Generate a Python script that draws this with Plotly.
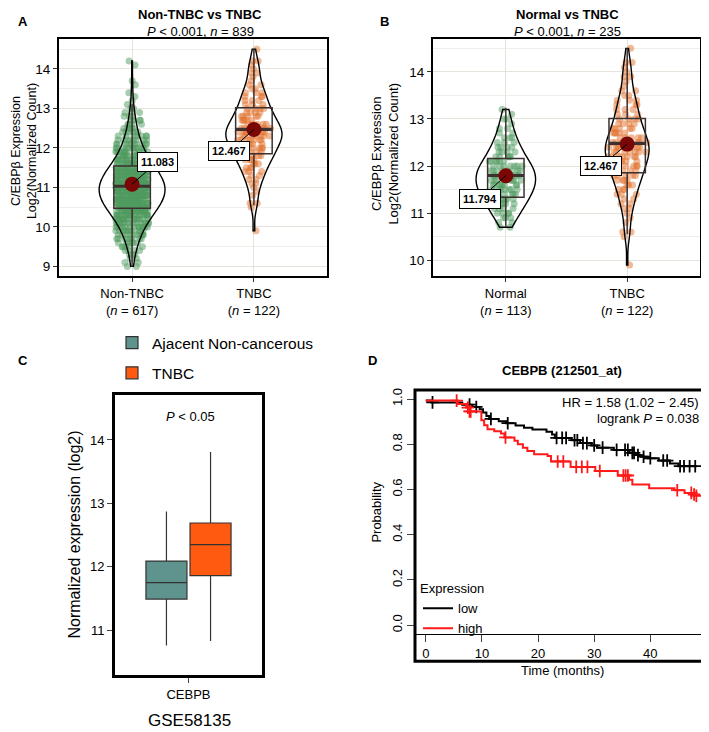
import numpy as np
import plotly.graph_objects as go

W, H = 709, 732
OFF = 8  # page body margin that shifts the figure on screen
FONT = "Liberation Sans"

# ---- panel A / B : C/EBPb expression (binned values read from the jitter/violins) ----
nontnbc_vals = [9.0, 9.1, 9.2, 9.3, 9.4, 9.5, 9.6, 9.7, 9.8, 9.9,
                10.0, 10.1, 10.2, 10.3, 10.4, 10.5, 10.6, 10.7, 10.8, 10.9,
                11.0, 11.1, 11.2, 11.3, 11.4, 11.5, 11.6, 11.7, 11.8, 11.9,
                12.0, 12.1, 12.2, 12.3, 12.4, 12.5, 12.6, 12.7, 12.8, 12.9,
                13.0, 13.1, 13.2, 13.3, 13.4, 13.6, 13.7, 14.1, 14.2]
nontnbc_counts = [2, 2, 2, 3, 4, 5, 6, 8, 9, 11,
                  13, 15, 17, 21, 25, 27, 30, 32, 34, 35,
                  35, 34, 32, 29, 27, 24, 21, 17, 15, 13,
                  11, 10, 8, 7, 6, 5, 4, 4, 3, 3,
                  2, 1, 1, 1, 1, 1, 1, 1, 1]

tnbc_vals = [9.9, 10.5, 10.6, 10.8, 10.9, 11.0, 11.1, 11.2, 11.3, 11.4,
             11.5, 11.6, 11.7, 11.8, 11.9, 12.0, 12.1, 12.2, 12.3, 12.4,
             12.5, 12.6, 12.7, 12.8, 12.9, 13.0, 13.1, 13.2, 13.3, 13.4,
             13.5, 13.6, 13.7, 13.8, 13.9, 14.0, 14.1, 14.2, 14.5]
tnbc_counts = [1, 1, 2, 1, 1, 1, 2, 2, 2, 3,
               3, 3, 4, 5, 5, 5, 5, 7, 7, 7,
               7, 5, 5, 5, 4, 4, 3, 3, 3, 3,
               2, 2, 1, 1, 2, 1, 1, 2, 1]

normal_vals = [10.7, 10.8, 10.9, 11.0, 11.1, 11.2, 11.3, 11.4, 11.5, 11.6,
               11.7, 11.8, 11.9, 12.0, 12.1, 12.2, 12.3, 12.4, 12.5, 12.6,
               12.7, 12.8, 12.9, 13.0, 13.1, 13.2]
normal_counts = [2, 2, 3, 4, 4, 5, 6, 7, 7, 8,
                 8, 8, 8, 7, 6, 5, 4, 4, 3, 3,
                 2, 2, 1, 2, 1, 1]

cats_a = ["Non-TNBC<br>(<i>n</i> = 617)", "TNBC<br>(<i>n</i> = 122)"]
cats_b = ["Normal<br>(<i>n</i> = 113)", "TNBC<br>(<i>n</i> = 122)"]

box_a = dict(q1=[10.47, 11.85], median=[11.03, 12.47], q3=[11.54, 13.02],
             lowerfence=[9.0, 10.55], upperfence=[13.12, 14.5])
box_b = dict(q1=[11.34, 11.86], median=[11.80, 12.48], q3=[12.16, 13.01],
             lowerfence=[10.70, 10.55], upperfence=[13.24, 14.5])
means_a = [11.083, 12.467]
means_b = [11.794, 12.467]

# ---- panel C : GSE58135 box summary ----
c_names = ["Ajacent Non-cancerous", "TNBC"]
c_q1 = [11.49, 11.86]
c_median = [11.75, 12.35]
c_q3 = [12.09, 12.69]
c_low = [10.76, 10.83]
c_high = [12.87, 13.81]

# ---- panel D : Kaplan-Meier ----
low_t = [0, 1.0, 6.5, 8.3, 9.6, 10.2, 10.8, 11.3, 13.0, 14.3, 16.0, 17.5, 19.0, 21.5,
         22.5, 23.0, 26.0, 27.5, 29.5, 30.5, 33.5, 36.3, 37.3, 38.3, 39.5, 41.5, 43.5,
         45.0, 48.3]
low_s = [0.993, 0.985, 0.975, 0.965, 0.955, 0.94, 0.925, 0.912, 0.902, 0.893, 0.883,
         0.873, 0.865, 0.855, 0.843, 0.828, 0.818, 0.805, 0.795, 0.785, 0.775, 0.762,
         0.752, 0.745, 0.738, 0.728, 0.715, 0.703, 0.703]
low_cens_t = [1.2, 7.8, 9.0, 11.6, 14.6, 23.3, 24.3, 25.0, 26.5, 27.0, 28.0, 28.7, 30.0,
              31.5, 34.0, 35.5, 36.0, 36.8, 37.1, 37.8, 38.8, 40.0, 42.3, 43.0, 45.3,
              46.0, 47.0, 48.0]
low_cens_s = [0.985, 0.975, 0.965, 0.912, 0.893, 0.828, 0.828, 0.828, 0.818, 0.818,
              0.805, 0.805, 0.795, 0.785, 0.775, 0.775, 0.775, 0.762, 0.762, 0.752,
              0.745, 0.738, 0.728, 0.728, 0.703, 0.703, 0.703, 0.703]

high_t = [0, 5.7, 7.2, 7.8, 9.9, 10.4, 11.0, 12.2, 13.4, 14.0, 15.8, 16.4, 17.3, 18.1,
          19.3, 21.7, 22.3, 25.8, 30.2, 34.2, 36.2, 36.8, 39.8, 44.3, 46.1, 47.5, 48.2]
high_s = [0.993, 0.978, 0.962, 0.945, 0.906, 0.884, 0.866, 0.858, 0.848, 0.83, 0.815,
          0.80, 0.785, 0.77, 0.756, 0.748, 0.724, 0.70, 0.682, 0.662, 0.643, 0.622,
          0.605, 0.597, 0.585, 0.578, 0.572]
high_cens_t = [5.5, 7.5, 7.8, 8.0, 14.2, 23.5, 24.5, 26.8, 27.8, 28.8, 31.0, 35.2, 35.6,
               36.0, 44.8, 47.3, 47.8, 48.2]
high_cens_s = [0.993, 0.962, 0.945, 0.945, 0.83, 0.724, 0.724, 0.70, 0.70, 0.70, 0.682,
               0.662, 0.662, 0.662, 0.597, 0.585, 0.578, 0.572]


def px(x):
    return (x - OFF) / W


def py(y):
    return 1 - (y - OFF) / H


GREEN_PT = "#4f9c60"
ORANGE_PT = "#e2732f"
BOXLINE = "#3d3030"
GRID = "#e6e3dc"
GRID_MINOR = "#f1efea"

fig = go.Figure()


def add_group(xa, ya, cat, vals, counts, color, vwidth, jit):
    y = np.repeat(vals, counts)
    x = [cat] * len(y)
    # jittered points first, outline after
    fig.add_trace(go.Violin(x=x, y=y, xaxis=xa, yaxis=ya, points="all", pointpos=0,
                            jitter=jit, width=vwidth, spanmode="hard",
                            line=dict(width=0), fillcolor="rgba(0,0,0,0)",
                            marker=dict(color=color, size=7, opacity=0.5),
                            showlegend=False, hoverinfo="y"))
    fig.add_trace(go.Violin(x=x, y=y, xaxis=xa, yaxis=ya, points=False, width=vwidth,
                            spanmode="hard", bandwidth=0.22,
                            line=dict(color="black", width=1.4),
                            fillcolor="rgba(0,0,0,0)", showlegend=False,
                            hoverinfo="skip"))


add_group("x", "y", cats_a[0], nontnbc_vals, nontnbc_counts, GREEN_PT, 0.54, 0.5)
add_group("x", "y", cats_a[1], tnbc_vals, tnbc_counts, ORANGE_PT, 0.46, 0.6)
add_group("x2", "y2", cats_b[0], normal_vals, normal_counts, GREEN_PT, 0.49, 0.55)
add_group("x2", "y2", cats_b[1], tnbc_vals, tnbc_counts, ORANGE_PT, 0.36, 0.9)

for xa, ya, cats, st, means in [("x", "y", cats_a, box_a, means_a),
                                ("x2", "y2", cats_b, box_b, means_b)]:
    fig.add_trace(go.Box(x=cats, xaxis=xa, yaxis=ya, width=0.3, whiskerwidth=0,
                         fillcolor="rgba(0,0,0,0)", line=dict(color=BOXLINE, width=1.5),
                         boxpoints=False, showlegend=False, **st))
    # thicker median bar, as in ggplot boxplots
    med = st["median"]
    fig.add_trace(go.Box(x=cats, xaxis=xa, yaxis=ya, width=0.3, whiskerwidth=0,
                         q1=med, median=med, q3=med, lowerfence=med, upperfence=med,
                         fillcolor="rgba(0,0,0,0)", line=dict(color=BOXLINE, width=3.2),
                         boxpoints=False, showlegend=False, hoverinfo="skip"))
    fig.add_trace(go.Scatter(x=cats, y=means, xaxis=xa, yaxis=ya, mode="markers",
                             marker=dict(color="#7a0606", size=15), showlegend=False))

# panel C boxes, dodged inside one category
for name, col, i in [(c_names[0], "#5e948d", 0), (c_names[1], "#ff5a10", 1)]:
    fig.add_trace(go.Box(x=["CEBPB"], q1=[c_q1[i]], median=[c_median[i]], q3=[c_q3[i]],
                         lowerfence=[c_low[i]], upperfence=[c_high[i]], name=name,
                         xaxis="x3", yaxis="y3", fillcolor=col, whiskerwidth=0,
                         line=dict(color="#333333", width=1.2), boxpoints=False,
                         alignmentgroup="c", offsetgroup="c%d" % i,
                         legend="legend", legendgroup="g%d" % i))

# panel D KM curves
for name, col, t, s, ct, cs in [("low", "black", low_t, low_s, low_cens_t, low_cens_s),
                                ("high", "#ff1a1a", high_t, high_s, high_cens_t, high_cens_s)]:
    fig.add_trace(go.Scatter(x=t, y=s, xaxis="x4", yaxis="y4", mode="lines", name=name,
                             line=dict(color=col, width=2, shape="hv"), legend="legend2"))
    fig.add_trace(go.Scatter(x=ct, y=cs, xaxis="x4", yaxis="y4", mode="markers",
                             marker=dict(symbol="cross-thin", size=9,
                                         line=dict(color=col, width=1.8)),
                             showlegend=False))

tf = dict(family=FONT, color="black")


def violin_axes(xd, yd, yr, cats, ytickvals):
    xa = dict(domain=xd, type="category", categoryorder="array", categoryarray=cats,
              range=[-0.6, 1.6], showline=True, mirror=True, linecolor="black",
              linewidth=2, showgrid=True, gridcolor=GRID, gridwidth=1.3, ticks="outside",
              ticklen=4, tickcolor="#333", tickfont=dict(size=13, **tf), zeroline=False)
    ya = dict(domain=yd, range=yr, tickvals=ytickvals, showline=True, mirror=True,
              linecolor="black", linewidth=2, showgrid=True, gridcolor=GRID, gridwidth=1.3,
              minor=dict(dtick=0.5, tick0=0, showgrid=True, gridcolor=GRID_MINOR, gridwidth=1),
              ticks="outside", ticklen=4, tickcolor="#333", tickfont=dict(size=13.5, **tf),
              zeroline=False)
    return xa, ya


xa1, ya1 = violin_axes([px(59), px(327)], [py(275), py(37)], [8.75, 14.76], cats_a,
                       [9, 10, 11, 12, 13, 14])
xa2, ya2 = violin_axes([px(433), px(700)], [py(275), py(37)], [9.66, 14.70], cats_b,
                       [10, 11, 12, 13, 14])
xa1["anchor"] = "y"
ya1["anchor"] = "x"
xa2["anchor"] = "y2"
ya2["anchor"] = "x2"

fig.update_layout(
    width=W, height=H, margin=dict(l=0, r=0, t=0, b=0),
    paper_bgcolor="white", plot_bgcolor="white",
    font=dict(family=FONT, color="black"),
    boxmode="group", boxgap=0.40, boxgroupgap=0.07, violinmode="overlay",
    xaxis=xa1, yaxis=ya1, xaxis2=xa2, yaxis2=ya2,
    xaxis3=dict(domain=[px(115), px(262)], anchor="y3", type="category",
                range=[-0.5, 0.5],
                showline=True, mirror=True, linecolor="black", linewidth=3, showgrid=False,
                ticks="outside", ticklen=5, tickfont=dict(size=13, **tf)),
    yaxis3=dict(domain=[py(675), py(394)], anchor="x3", range=[10.29, 14.71], dtick=1,
                showline=True, mirror=True, linecolor="black", linewidth=3, showgrid=False,
                zeroline=False, ticks="outside", ticklen=5, tickfont=dict(size=13, **tf)),
    xaxis4=dict(domain=[px(415), px(706)], anchor="y4", range=[-1.92, 49.92], dtick=10,
                tick0=0, showline=True, linecolor="black", linewidth=1, showgrid=False,
                zeroline=False, ticks="outside", ticklen=7, tickfont=dict(size=13, **tf)),
    yaxis4=dict(domain=[py(634), py(389)], anchor="x4", range=[-0.04, 1.04], dtick=0.2,
                tick0=0, tickformat=".1f", tickangle=-90, showline=False, showgrid=False,
                zeroline=False, ticks="outside", ticklen=7, tickfont=dict(size=13, **tf)),
    legend=dict(x=px(112), y=py(325), xanchor="left", yanchor="top",
                font=dict(size=15.5, **tf), tracegroupgap=7, bgcolor="rgba(0,0,0,0)"),
    legend2=dict(x=px(418), y=py(576), xanchor="left", yanchor="top",
                 title=dict(text="Expression", font=dict(size=13, **tf)),
                 font=dict(size=13, **tf), bgcolor="rgba(0,0,0,0)"),
    shapes=[dict(type="rect", xref="paper", yref="paper", x0=px(415), x1=px(706),
                 y0=py(661), y1=py(389), line=dict(color="black", width=3))],
)


def ann(x, y, text, size=13, bold=False, angle=0, xanchor="center"):
    if bold:
        text = "<b>%s</b>" % text
    fig.add_annotation(x=px(x), y=py(y), xref="paper", yref="paper", text=text,
                       showarrow=False, textangle=angle, xanchor=xanchor,
                       yanchor="middle", font=dict(size=size, **tf))


ann(23, 20, "A", 13, True)
ann(385, 20, "B", 13, True)
ann(23, 359, "C", 13, True)
ann(372, 359, "D", 13, True)

ann(200, 13, "Non-TNBC vs TNBC", 13, True)
ann(200, 30, "<i>P</i> &lt; 0.001, <i>n</i> = 839")
ann(567, 13, "Normal vs TNBC", 13, True)
ann(567, 30, "<i>P</i> &lt; 0.001, <i>n</i> = 235")
ann(23.5, 150, "C/EBPβ Expression<br>Log2(Normalized Count)", 12.5, angle=-90)
ann(385, 152, "C/EBPβ Expression<br>Log2(Normalized Count)", 13, angle=-90)

ann(190, 416, "<i>P</i> &lt; 0.05")
ann(75, 534, "Normalized expression (log2)", 16, angle=-90)
ann(189, 720, "GSE58135", 17)

ann(562, 369, "CEBPB (212501_at)", 13, True)
ann(701, 402, "HR = 1.58 (1.02 − 2.45)", xanchor="right")
ann(701, 418, "logrank <i>P</i> = 0.038", xanchor="right")
ann(377, 512, "Probability", angle=-90)
ann(562, 670, "Time (months)")

# mean value labels
for xa, ya, cats, means, offs in [("x", "y", cats_a, means_a, [(25, -22), (-25, 22)]),
                                  ("x2", "y2", cats_b, means_b, [(-26, 23), (-26, 22)])]:
    for cat, m, (ax, ay) in zip(cats, means, offs):
        fig.add_annotation(x=cat, y=m, xref=xa, yref=ya, text="<b>%.3f</b>" % m,
                           showarrow=True, arrowhead=0, arrowwidth=1, arrowcolor="black",
                           ax=ax, ay=ay, bgcolor="white", bordercolor="black",
                           borderwidth=1, borderpad=3, font=dict(size=11, **tf))

fig.write_html("out.html")
